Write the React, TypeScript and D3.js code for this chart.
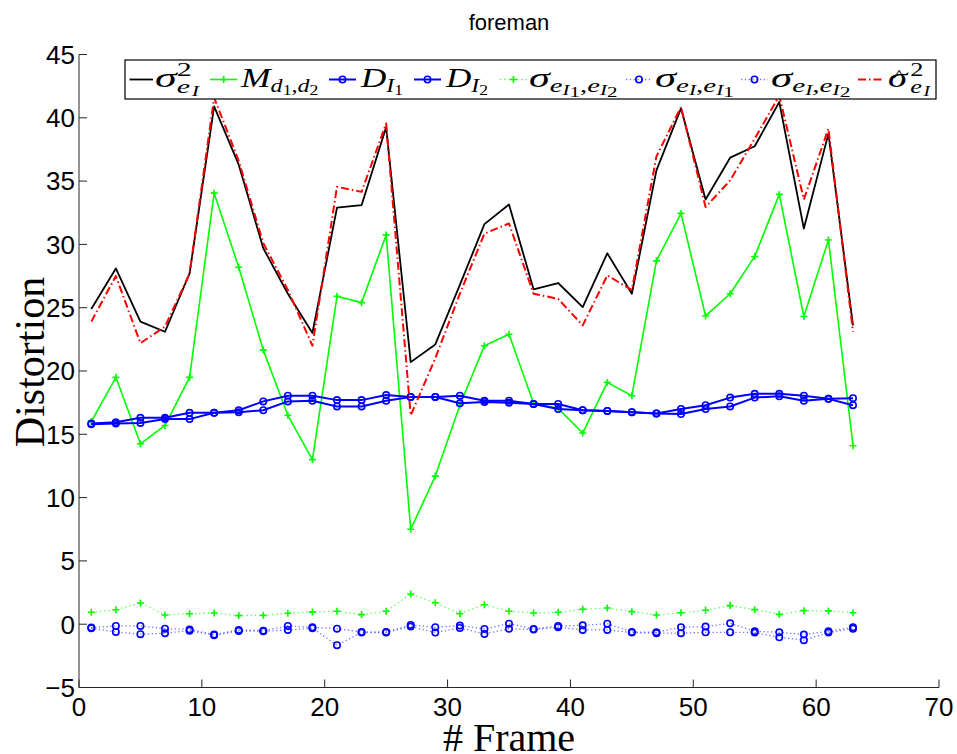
import React from 'react';
import * as d3 from 'd3';

// ---------- data ----------
const frames = [1, 3, 5, 7, 9, 11, 13, 15, 17, 19, 21, 23, 25, 27, 29, 31, 33, 35, 37, 39, 41, 43, 45, 47, 49, 51, 53, 55, 57, 59, 61, 63];

const sigmaE = [24.9, 28.1, 23.9, 23.1, 27.7, 40.9, 36.3, 29.7, 26.1, 23.0, 32.9, 33.1, 39.25, 20.7, 22.1, 26.8, 31.6, 33.15, 26.45, 26.95, 25.05, 29.3, 26.1, 35.85, 40.75, 33.55, 36.85, 37.75, 41.25, 31.25, 38.75, 23.6];
const mD = [16.0, 19.5, 14.25, 15.7, 19.5, 34.05, 28.2, 21.65, 16.5, 13.0, 25.9, 25.4, 30.75, 7.5, 11.7, 17.3, 22.0, 22.9, 17.45, 17.05, 15.1, 19.1, 18.05, 28.7, 32.45, 24.35, 26.1, 29.05, 33.95, 24.3, 30.35, 14.1];
const dI1 = [15.85, 15.95, 16.3, 16.3, 16.7, 16.7, 16.9, 17.6, 18.05, 18.05, 17.7, 17.7, 18.1, 17.95, 17.95, 18.05, 17.65, 17.65, 17.4, 17.4, 16.9, 16.85, 16.75, 16.65, 17.0, 17.3, 17.9, 18.2, 18.2, 18.05, 17.8, 17.85];
const dI2 = [15.8, 15.85, 15.9, 16.2, 16.2, 16.7, 16.75, 16.9, 17.6, 17.65, 17.2, 17.2, 17.65, 17.95, 17.95, 17.45, 17.55, 17.5, 17.4, 17.0, 16.9, 16.85, 16.75, 16.65, 16.6, 17.0, 17.2, 17.9, 18.0, 17.65, 17.8, 17.3];
const covI1I2 = [0.94, 1.14, 1.68, 0.73, 0.83, 0.89, 0.68, 0.70, 0.86, 0.97, 1.02, 0.76, 1.02, 2.38, 1.70, 0.83, 1.54, 1.02, 0.89, 0.94, 1.18, 1.28, 0.99, 0.73, 0.91, 1.10, 1.47, 1.15, 0.78, 1.07, 1.05, 0.91];
const covII1 = [-0.27, -0.14, -0.14, -0.35, -0.41, -0.82, -0.45, -0.51, -0.14, -0.24, -0.35, -0.61, -0.61, -0.06, -0.24, -0.11, -0.37, 0.04, -0.38, -0.14, -0.09, 0.04, -0.61, -0.64, -0.24, -0.19, 0.07, -0.56, -0.64, -0.82, -0.56, -0.24];
const covII2 = [-0.32, -0.61, -0.79, -0.71, -0.51, -0.87, -0.53, -0.56, -0.45, -0.32, -1.66, -0.66, -0.66, -0.19, -0.66, -0.30, -0.77, -0.36, -0.42, -0.24, -0.45, -0.45, -0.66, -0.71, -0.71, -0.64, -0.64, -0.66, -1.03, -1.26, -0.66, -0.35];
const sigmaHat = [23.9, 27.5, 22.2, 23.5, 27.7, 41.6, 36.6, 30.1, 26.4, 22.0, 34.55, 34.15, 39.55, 16.5, 21.0, 26.1, 30.85, 31.65, 26.1, 25.7, 23.6, 27.55, 26.4, 36.95, 40.85, 32.95, 35.05, 38.35, 41.75, 33.55, 39.15, 23.1];

const xTicks = [0, 10, 20, 30, 40, 50, 60, 70];
const yTicks = [-5, 0, 5, 10, 15, 20, 25, 30, 35, 40, 45];

const titleText = 'foreman';
const xLabel = '# Frame';
const yLabel = 'Distortion';

// ---------- layout ----------
const W = 957;
const H = 754;
const x = d3.scaleLinear().domain([0, 70]).range([79, 939]);
const y = d3.scaleLinear().domain([-5, 45]).range([687.5, 54.5]);

type Marker = 'none' | 'plus' | 'circle';
interface Series {
  values: number[];
  color: string;
  width: number;
  dash?: string;
  lineOpacity?: number;
  marker: Marker;
}

const series: Series[] = [
  { values: sigmaE, color: '#000000', width: 1.8, marker: 'none' },
  { values: mD, color: '#00ff00', width: 1.6, marker: 'plus' },
  { values: dI1, color: '#0000ff', width: 2, marker: 'circle' },
  { values: dI2, color: '#0000ff', width: 2, marker: 'circle' },
  { values: covI1I2, color: '#00ff00', width: 1.3, dash: '1.3,3', lineOpacity: 0.7, marker: 'plus' },
  { values: covII1, color: '#0000ff', width: 1.3, dash: '1.3,2.5', lineOpacity: 0.55, marker: 'circle' },
  { values: covII2, color: '#0000ff', width: 1.3, dash: '1.3,2.5', lineOpacity: 0.55, marker: 'circle' },
  { values: sigmaHat, color: '#ff0000', width: 2, dash: '8,3,1.5,3', marker: 'none' },
];

function plusPath(cx: number, cy: number, r = 3.5) {
  return `M${cx - r},${cy}H${cx + r}M${cx},${cy - r}V${cy + r}`;
}

function MarkerShape({ kind, cx, cy, color }: { kind: Marker; cx: number; cy: number; color: string }) {
  if (kind === 'plus') return <path d={plusPath(cx, cy)} stroke={color} strokeWidth={1.6} fill="none" />;
  if (kind === 'circle') return <circle cx={cx} cy={cy} r={3.2} stroke={color} strokeWidth={1.6} fill="none" />;
  return null;
}

// ---------- math labels ----------
const MATH_FONT = '"Liberation Serif"';
interface Piece { t: string; s: number; b: number; it?: boolean; from?: number; dx?: number; noAdvance?: boolean }
let ctxCache: CanvasRenderingContext2D | null = null;
function measure(t: string, s: number, it?: boolean) {
  if (!ctxCache) ctxCache = document.createElement('canvas').getContext('2d');
  if (!ctxCache) return t.length * s * 0.5;
  ctxCache.font = `${it ? 'italic ' : ''}${s}px ${MATH_FONT}`;
  return ctxCache.measureText(t).width;
}

function MathLabel({ x0, y0, pieces, width }: { x0: number; y0: number; pieces: Piece[]; width: number }) {
  let cur = 0;
  const starts: number[] = [];
  const placed = pieces.map((p, i) => {
    const w = measure(p.t, p.s, p.it);
    const px = (p.from !== undefined ? starts[p.from] : cur) + (p.dx || 0);
    starts[i] = px;
    if (!p.noAdvance) cur = Math.max(cur, px + w);
    return { ...p, px };
  });
  const sx = width / cur;
  return (
    <g transform={`translate(${x0},${y0}) scale(${sx},1)`}>
      {placed.map((p, i) => (
        <text key={i} x={p.px} y={p.b} fontSize={p.s} fontStyle={p.it ? 'italic' : 'normal'} fontFamily={`${MATH_FONT}, serif`} fill="#000">
          {p.t}
        </text>
      ))}
    </g>
  );
}

const M = 28, S = 19, SS = 14;
const sub = (t: string, it = true): Piece => ({ t, s: S, b: 5, it });
const ssub = (t: string, it = true): Piece => ({ t, s: SS, b: 8, it });

const legendItems: { color: string; width: number; dash?: string; lineOpacity?: number; marker: Marker; pieces: Piece[] }[] = [
  { color: '#000', width: 1.8, marker: 'none', pieces: [{ t: 'σ', s: M, b: 0, it: true }, { t: '2', s: S, b: -11 }, { t: 'e', s: S, b: 6, it: true, from: 1 }, { t: 'I', s: SS, b: 9, it: true }] },
  { color: '#00ff00', width: 1.6, marker: 'plus', pieces: [{ t: 'M', s: M, b: 0, it: true }, sub('d'), ssub('1', false), sub(',', false), sub('d'), ssub('2', false)] },
  { color: '#0000ff', width: 2, marker: 'circle', pieces: [{ t: 'D', s: M, b: 0, it: true }, sub('I'), ssub('1', false)] },
  { color: '#0000ff', width: 2, marker: 'circle', pieces: [{ t: 'D', s: M, b: 0, it: true }, sub('I'), ssub('2', false)] },
  { color: '#00ff00', width: 1.3, dash: '1.3,3', lineOpacity: 0.7, marker: 'plus', pieces: [{ t: 'σ', s: M, b: 0, it: true }, sub('e'), ssub('I'), { t: '1', s: SS, b: 10 }, sub(',', false), sub('e'), ssub('I'), { t: '2', s: SS, b: 10 }] },
  { color: '#0000ff', width: 1.3, dash: '1.3,2.5', lineOpacity: 0.55, marker: 'circle', pieces: [{ t: 'σ', s: M, b: 0, it: true }, sub('e'), ssub('I'), sub(',', false), sub('e'), ssub('I'), { t: '1', s: SS, b: 10 }] },
  { color: '#0000ff', width: 1.3, dash: '1.3,2.5', lineOpacity: 0.55, marker: 'circle', pieces: [{ t: 'σ', s: M, b: 0, it: true }, sub('e'), ssub('I'), sub(',', false), sub('e'), ssub('I'), { t: '2', s: SS, b: 10 }] },
  { color: '#ff0000', width: 2, dash: '8,3,1.5,3', marker: 'none', pieces: [{ t: 'σ', s: M, b: 0, it: true }, { t: '^', s: 17, b: -6, from: 0, dx: 4, noAdvance: true }, { t: '2', s: S, b: -11, from: 0, dx: 16 }, { t: 'e', s: S, b: 6, it: true, from: 2 }, { t: 'I', s: SS, b: 9, it: true }] },
];

// sample start, sample end, text start, text end
const legendSlots = [
  [129.5, 153, 155, 199],
  [210, 237.5, 241, 318.5],
  [329, 356, 361, 403],
  [414, 441, 446, 488],
  [500, 527, 529, 617.5],
  [626, 652, 655, 734],
  [741, 768, 771, 850.5],
  [858, 884, 888, 930],
];

export default function App() {
  const line = d3
    .line<number>()
    .x((_, i) => x(frames[i]))
    .y((d) => y(d));

  const axisColor = '#262626';
  const legendY = 79.5;

  return (
    <svg width={W} height={H} style={{ position: 'absolute', left: 0, top: 0, background: '#fff' }}>
      <rect x={0} y={0} width={W} height={H} fill="#fff" />

      {/* title */}
      <text x={509} y={30} textAnchor="middle" fontFamily='"Liberation Sans", Arial, sans-serif' fontSize={22} fill="#000">
        {titleText}
      </text>

      {/* data */}
      {series.map((s, si) => (
        <g key={si}>
          <path
            d={line(s.values) || ''}
            fill="none"
            stroke={s.color}
            strokeWidth={s.width}
            strokeDasharray={s.dash}
            strokeOpacity={s.lineOpacity ?? 1}
            strokeLinejoin="round"
          />
          {s.marker !== 'none' &&
            s.values.map((v, i) => <MarkerShape key={i} kind={s.marker} cx={x(frames[i])} cy={y(v)} color={s.color} />)}
        </g>
      ))}

      {/* axes */}
      <line x1={x(0)} x2={x(0)} y1={y(-5)} y2={y(45)} stroke={axisColor} strokeWidth={1} />
      <line x1={x(0)} x2={x(70)} y1={y(-5)} y2={y(-5)} stroke={axisColor} strokeWidth={1} />
      {yTicks.map((t) => (
        <g key={'y' + t}>
          <line x1={x(0)} x2={x(0) + 8} y1={y(t)} y2={y(t)} stroke={axisColor} strokeWidth={1} />
          <text x={x(0) - 4} y={y(t) + 9.3} textAnchor="end" fontFamily='"Liberation Sans", Arial, sans-serif' fontSize={26} fill="#000">
            {t < 0 ? '\u2212' + Math.abs(t) : t}
          </text>
        </g>
      ))}
      {xTicks.map((t) => (
        <g key={'x' + t}>
          <line x1={x(t)} x2={x(t)} y1={y(-5)} y2={y(-5) - 8} stroke={axisColor} strokeWidth={1} />
          <text x={x(t)} y={716} textAnchor="middle" fontFamily='"Liberation Sans", Arial, sans-serif' fontSize={26} fill="#000">
            {t}
          </text>
        </g>
      ))}

      {/* axis labels */}
      <text x={509} y={751} textAnchor="middle" fontFamily='"Liberation Serif", serif' fontSize={40} fill="#000">
        {xLabel}
      </text>
      <text transform="translate(44,362) rotate(-90)" textAnchor="middle" fontFamily='"Liberation Serif", serif' fontSize={42} fill="#000">
        {yLabel}
      </text>

      {/* legend */}
      <rect x={125} y={60} width={811} height={39} fill="#fff" stroke="#000" strokeWidth={1.2} />
      {legendItems.map((it, i) => {
        const [a, b, tx, te] = legendSlots[i];
        const mid = (a + b) / 2;
        return (
          <g key={'lg' + i}>
            <line x1={a} x2={b} y1={legendY} y2={legendY} stroke={it.color} strokeWidth={it.width} strokeDasharray={it.dash} strokeOpacity={it.lineOpacity ?? 1} />
            <MarkerShape kind={it.marker} cx={mid} cy={legendY} color={it.color} />
            <MathLabel x0={tx} y0={87} pieces={it.pieces} width={te - tx} />
          </g>
        );
      })}
    </svg>
  );
}
